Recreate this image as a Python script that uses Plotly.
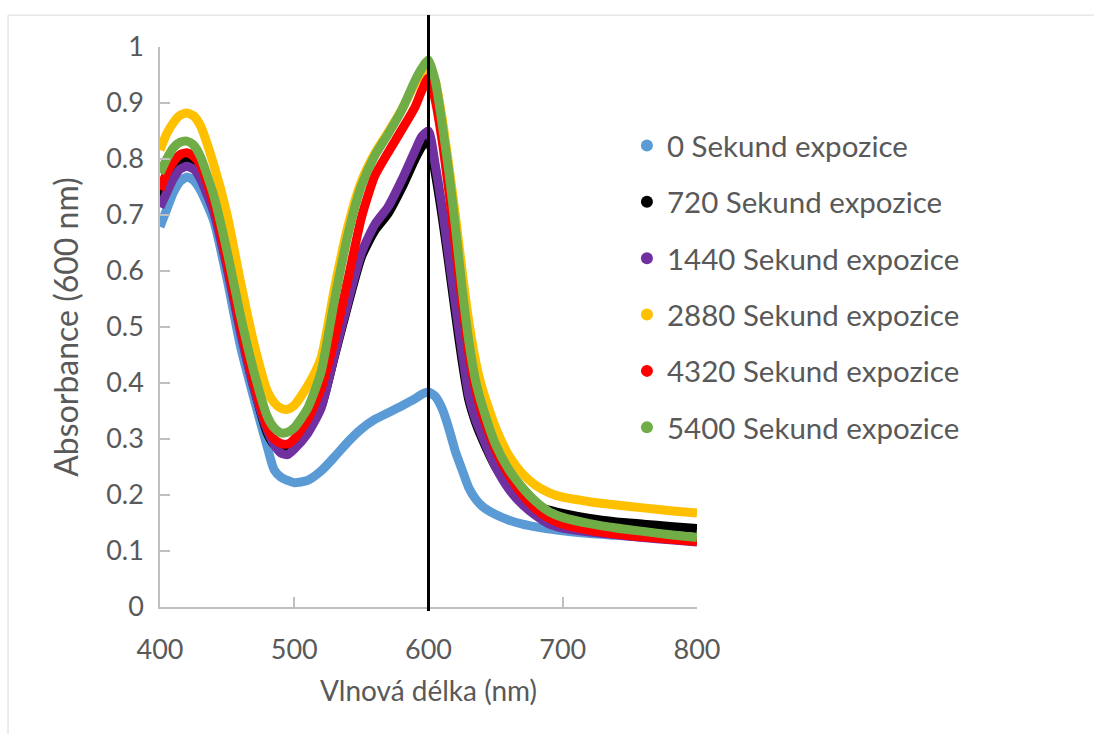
import plotly.graph_objects as go

wavelength = [400, 405, 410, 415, 420, 425, 430, 440, 450, 460, 470, 480, 485, 490, 495, 500,
              510, 520, 530, 540, 550, 560, 570, 580, 590, 595, 600, 605, 610, 615, 620, 625,
              630, 635, 640, 650, 660, 670, 680, 690, 700, 720, 740, 760, 780, 800]

abs_0 = [0.679, 0.71, 0.74, 0.76, 0.768, 0.762, 0.745, 0.69, 0.585, 0.465, 0.372, 0.285, 0.245, 0.232, 0.226, 0.222,
         0.226, 0.243, 0.268, 0.295, 0.318, 0.335, 0.347, 0.359, 0.372, 0.38, 0.384, 0.376, 0.355, 0.32, 0.278, 0.245,
         0.213, 0.193, 0.18, 0.165, 0.155, 0.148, 0.143, 0.139, 0.136, 0.131, 0.128, 0.125, 0.122, 0.12]

abs_720 = [0.73, 0.755, 0.778, 0.795, 0.8, 0.795, 0.778, 0.712, 0.61, 0.495, 0.392, 0.31, 0.29, 0.285, 0.285, 0.292,
           0.318, 0.358, 0.448, 0.54, 0.625, 0.672, 0.703, 0.748, 0.8, 0.822, 0.835, 0.775, 0.7, 0.615, 0.525, 0.44,
           0.37, 0.33, 0.3, 0.25, 0.215, 0.193, 0.18, 0.173, 0.167, 0.158, 0.152, 0.148, 0.144, 0.14]

abs_1440 = [0.714, 0.74, 0.765, 0.782, 0.787, 0.782, 0.765, 0.705, 0.605, 0.49, 0.39, 0.315, 0.29, 0.275, 0.272, 0.282,
            0.31, 0.355, 0.45, 0.545, 0.632, 0.683, 0.715, 0.762, 0.815, 0.84, 0.85, 0.79, 0.715, 0.628, 0.54, 0.455,
            0.378, 0.335, 0.305, 0.25, 0.21, 0.183, 0.163, 0.148, 0.141, 0.134, 0.129, 0.124, 0.12, 0.116]

abs_2880 = [0.816, 0.845, 0.865, 0.878, 0.882, 0.877, 0.86, 0.79, 0.7, 0.58, 0.47, 0.385, 0.365, 0.355, 0.353, 0.36,
            0.395, 0.445, 0.57, 0.68, 0.76, 0.81, 0.848, 0.888, 0.935, 0.955, 0.965, 0.94, 0.875, 0.79, 0.7, 0.6,
            0.51, 0.44, 0.39, 0.32, 0.27, 0.238, 0.217, 0.204, 0.196, 0.188, 0.182, 0.177, 0.172, 0.168]

abs_4320 = [0.745, 0.775, 0.795, 0.808, 0.811, 0.805, 0.79, 0.72, 0.615, 0.5, 0.4, 0.32, 0.3, 0.292, 0.291, 0.3,
            0.335, 0.39, 0.478, 0.585, 0.695, 0.77, 0.812, 0.852, 0.893, 0.922, 0.945, 0.905, 0.835, 0.745, 0.645, 0.545,
            0.455, 0.39, 0.345, 0.28, 0.235, 0.2, 0.175, 0.158, 0.148, 0.137, 0.13, 0.125, 0.121, 0.117]

abs_5400 = [0.775, 0.8, 0.82, 0.83, 0.832, 0.825, 0.805, 0.735, 0.635, 0.52, 0.42, 0.34, 0.32, 0.311, 0.312, 0.32,
            0.355, 0.42, 0.548, 0.665, 0.752, 0.806, 0.845, 0.887, 0.94, 0.962, 0.977, 0.94, 0.865, 0.78, 0.68, 0.57,
            0.475, 0.405, 0.36, 0.29, 0.245, 0.213, 0.188, 0.17, 0.16, 0.149, 0.141, 0.135, 0.129, 0.124]

series_names = ["0 Sekund expozice", "720 Sekund expozice", "1440 Sekund expozice",
                "2880 Sekund expozice", "4320 Sekund expozice", "5400 Sekund expozice"]
series_values = [abs_0, abs_720, abs_1440, abs_2880, abs_4320, abs_5400]
series_colors = ["#5B9BD5", "#000000", "#7030A0", "#FFC000", "#FF0000", "#70AD47"]

marker_line_x = 600
x_range = [400, 800]
x_ticks = [400, 500, 600, 700, 800]

FONT = "Lato"
GRAY_TXT = "#595959"
AXIS_GRAY = "#BFBFBF"

fig = go.Figure()

for name, vals, col in zip(series_names, series_values, series_colors):
    fig.add_trace(go.Scatter(
        x=wavelength, y=vals, mode="lines", name=name,
        line=dict(color=col, width=9, shape="spline", smoothing=0.6),
        showlegend=False, hoverinfo="skip",
    ))

for i, (name, col) in enumerate(zip(series_names, series_colors)):
    fig.add_trace(go.Scatter(
        x=[None], y=[None], mode="markers", name=name,
        marker=dict(color=col, size=9), legendgroup="g%d" % i,
    ))

# vertical reference line at 600 nm (extends beyond the plot area like the original)
xp = (marker_line_x - x_range[0]) / (x_range[1] - x_range[0])
fig.add_shape(type="line", xref="paper", yref="paper", x0=xp, x1=xp,
              y0=-0.007, y1=1.057, line=dict(color="black", width=3), layer="above")

# chart-area border (Excel-like)
fig.add_shape(type="rect", xref="paper", yref="paper", x0=-0.283, x1=1.9,
              y0=-0.4, y1=1.057, line=dict(color="#D9D9D9", width=1), layer="below")

fig.update_layout(
    width=1094, height=734,
    margin=dict(l=160, r=397, t=47, b=127),
    paper_bgcolor="white", plot_bgcolor="white",
    font=dict(family=FONT, color=GRAY_TXT, size=27),
    xaxis=dict(range=x_range, tickvals=x_ticks, showgrid=False, zeroline=False,
               showline=True, linecolor=AXIS_GRAY, linewidth=1.5,
               ticks="inside", ticklen=10, tickcolor=AXIS_GRAY, tickwidth=1.5,
               ticklabelstandoff=18,
               tickfont=dict(size=27, color=GRAY_TXT),
               title=dict(text="Vlnová délka (nm)", font=dict(size=28, color=GRAY_TXT), standoff=17)),
    yaxis=dict(range=[0, 1], dtick=0.1, showgrid=False, zeroline=False,
               showline=True, linecolor=AXIS_GRAY, linewidth=1.5,
               ticks="inside", ticklen=10, tickcolor=AXIS_GRAY, tickwidth=1.5,
               ticklabelstandoff=9,
               tickfont=dict(size=27, color=GRAY_TXT),
               title=dict(text="Absorbance (600 nm)", font=dict(size=32, color=GRAY_TXT), standoff=18)),
    legend=dict(x=0.8695, xanchor="left", y=0.87, yanchor="top",
                font=dict(size=29.5, color=GRAY_TXT), tracegroupgap=15,
                itemsizing="constant", bgcolor="rgba(0,0,0,0)"),
)

fig.write_html("out.html")
